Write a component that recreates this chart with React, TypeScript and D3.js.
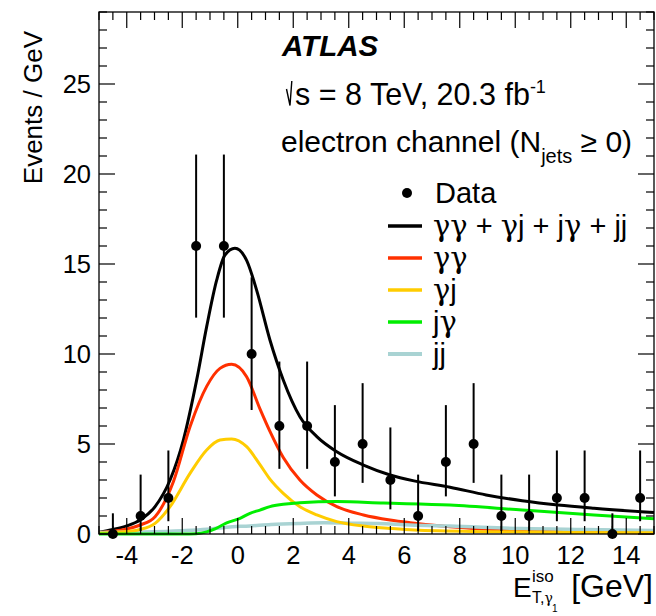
import React from 'react';
import * as d3 from 'd3';

// ---- data ----
const binCenters = [-4.5, -3.5, -2.5, -1.5, -0.5, 0.5, 1.5, 2.5, 3.5, 4.5, 5.5, 6.5, 7.5, 8.5, 9.5, 10.5, 11.5, 12.5, 13.5, 14.5];
const dataCounts = [0, 1, 2, 16, 16, 10, 6, 6, 4, 5, 3, 1, 4, 5, 1, 1, 2, 2, 0, 2];
const errHigh = [1.15, 2.3, 2.64, 5.08, 5.08, 4.26, 3.58, 3.58, 3.16, 3.38, 2.92, 2.3, 3.16, 3.38, 2.3, 2.3, 2.64, 2.64, 1.15, 2.64];
const errLow = [0, 0.83, 1.29, 3.98, 3.98, 3.11, 2.38, 2.38, 1.91, 2.16, 1.63, 0.83, 1.91, 2.16, 0.83, 0.83, 1.29, 1.29, 0, 1.29];

const totalX = [-5, -4.5, -4, -3.52, -2.98, -2.44, -1.96, -1.48, -1.12, -0.76, -0.46, -0.1, 0.32, 0.68, 1.16, 1.64, 2.24, 2.85, 3.57, 4.53, 5.49, 6.35, 7.65, 8.95, 10.25, 11.54, 12.84, 15];
const totalY = [0.1, 0.25, 0.45, 0.78, 1.52, 3.0, 5.22, 8.56, 11.52, 14.1, 15.5, 15.87, 15.2, 13.55, 10.78, 8.56, 6.52, 5.41, 4.57, 3.83, 3.28, 2.95, 2.6, 2.17, 1.85, 1.61, 1.43, 1.19];

const ggX = [-5, -4.5, -4, -3.52, -2.98, -2.32, -1.72, -1.12, -0.64, -0.22, 0.32, 0.8, 1.16, 1.64, 2.24, 2.85, 3.57, 4.53, 5.49, 6.21, 7.65, 9.6, 12, 15];
const ggY = [0.08, 0.15, 0.28, 0.5, 0.96, 2.9, 5.96, 8.2, 9.2, 9.43, 8.74, 6.95, 5.7, 4.25, 3.0, 2.17, 1.52, 1.06, 0.78, 0.63, 0.4, 0.22, 0.12, 0.06];

const gjX = [-5, -4.5, -4, -3.52, -2.98, -2.44, -1.72, -1.12, -0.64, -0.22, 0.32, 0.8, 1.16, 1.64, 2.24, 2.85, 3.57, 4.53, 5.49, 6.35, 8.95, 12, 15];
const gjY = [0.05, 0.08, 0.14, 0.25, 0.59, 1.52, 3.37, 4.67, 5.22, 5.28, 4.85, 3.85, 3.05, 2.26, 1.52, 1.06, 0.69, 0.44, 0.31, 0.22, 0.13, 0.09, 0.07];

const jgX = [-5, -2, -1.5, -1.12, -0.8, -0.4, 0.08, 0.44, 0.8, 1.16, 1.64, 2.24, 3.57, 5.25, 7.65, 10.25, 12.84, 15];
const jgY = [0, 0, 0.02, 0.12, 0.3, 0.62, 0.87, 1.15, 1.33, 1.52, 1.65, 1.74, 1.8, 1.72, 1.61, 1.33, 1.06, 0.85];

const jjX = [-5, -3.5, -2, -1.12, -0.4, 0.44, 1.2, 2.24, 3.11, 4.1, 5.06, 6.21, 7.65, 10.25, 12.5, 15];
const jjY = [0.08, 0.11, 0.18, 0.26, 0.38, 0.45, 0.53, 0.59, 0.62, 0.6, 0.58, 0.5, 0.44, 0.3, 0.25, 0.2];

const xTickLabels = ['-4', '-2', '0', '2', '4', '6', '8', '10', '12', '14'];
const xTickValues = [-4, -2, 0, 2, 4, 6, 8, 10, 12, 14];
const yTickLabels = ['0', '5', '10', '15', '20', '25'];
const yTickValues = [0, 5, 10, 15, 20, 25];

const legendLabels = ['Data', 'γγ + γj + jγ + jj', 'γγ', 'γj', 'jγ', 'jj'];

const FONT = 'Liberation Sans, Arial, Helvetica, sans-serif';
const GREEK = 'DejaVu Serif, Liberation Serif, serif';

// renders text where γ is drawn in a serif face
function GreekText({ s, x, y, size }: { s: string; x: number; y: number; size: number }) {
  const parts = s.split(/(γ)/).filter((p) => p.length > 0);
  return (
    <text x={x} y={y} fontFamily={FONT} fontSize={size} fill="#000" style={{ whiteSpace: 'pre' }}>
      {parts.map((p, i) =>
        p === 'γ' ? (
          <tspan key={i} fontFamily={GREEK} fontSize={size}>γ</tspan>
        ) : (
          <tspan key={i}>{p}</tspan>
        )
      )}
    </text>
  );
}

export default function App() {
  const X0 = 99, X1 = 654, Y0 = 534, Y1 = 12;
  const x = d3.scaleLinear().domain([-5, 15]).range([X0, X1]);
  const y = d3.scaleLinear().domain([0, 29]).range([Y0, Y1]);

  const mk = (xs: number[], ys: number[]) =>
    d3
      .line<number>()
      .x((_, i) => x(xs[i]))
      .y((d) => y(d))
      .curve(d3.curveMonotoneX)(ys) || '';

  const yTicks = d3.range(0, 30, 1);
  const xTicks = d3.range(-5, 15.001, 0.5);

  const curves = [
    { xs: totalX, ys: totalY, color: '#000000', w: 3 },
    { xs: ggX, ys: ggY, color: '#ff3000', w: 3 },
    { xs: jjX, ys: jjY, color: '#a9d3d3', w: 3.5 },
    { xs: gjX, ys: gjY, color: '#ffcc00', w: 3 },
    { xs: jgX, ys: jgY, color: '#00ee00', w: 3 },
  ];

  const legendColors = ['#000', '#000000', '#ff3000', '#ffcc00', '#00ee00', '#a9d3d3'];
  const legendRowY = [193, 226, 258, 290, 322, 354];

  return (
    <svg width={656} height={616} style={{ position: 'absolute', left: 0, top: 0, background: '#fff' }}>
      <rect x={0} y={0} width={656} height={616} fill="#fff" />
      {/* curves */}
      {curves.map((c, i) => (
        <path key={i} d={mk(c.xs, c.ys)} fill="none" stroke={c.color} strokeWidth={c.w} strokeLinejoin="round" />
      ))}

      {/* frame */}
      <rect x={X0} y={Y1} width={X1 - X0} height={Y0 - Y1} fill="none" stroke="#000" strokeWidth={1.3} />

      {/* y ticks left & right */}
      {yTicks.map((t) => {
        const len = t % 5 === 0 ? 16 : 8;
        return (
          <g key={'y' + t} stroke="#000" strokeWidth={1.2}>
            <line x1={X0} x2={X0 + len} y1={y(t)} y2={y(t)} />
            <line x1={X1} x2={X1 - len} y1={y(t)} y2={y(t)} />
          </g>
        );
      })}
      {/* x ticks bottom & top */}
      {xTicks.map((t) => {
        const major = Math.abs(t % 2) < 1e-6;
        const len = major ? 16 : 8;
        return (
          <g key={'x' + t} stroke="#000" strokeWidth={1.2}>
            <line x1={x(t)} x2={x(t)} y1={Y0} y2={Y0 - len} />
            <line x1={x(t)} x2={x(t)} y1={Y1} y2={Y1 + len} />
          </g>
        );
      })}

      {/* tick labels */}
      {yTickValues.map((v, i) => (
        <text key={'yl' + v} x={91} y={y(v)} dy="0.36em" textAnchor="end" fontFamily={FONT} fontSize={25.5} fill="#000">
          {yTickLabels[i]}
        </text>
      ))}
      {xTickValues.map((v, i) => (
        <text key={'xl' + v} x={x(v)} y={564} textAnchor="middle" fontFamily={FONT} fontSize={25.5} fill="#000">
          {xTickLabels[i]}
        </text>
      ))}

      {/* axis titles */}
      <text transform="translate(42,31) rotate(-90)" textAnchor="end" fontFamily={FONT} fontSize={26} fill="#000">
        Events / GeV
      </text>
      <text x={653} y={597} textAnchor="end" fontFamily={FONT} fontSize={32} fill="#000">[GeV]</text>
      <text x={513} y={597} fontFamily={FONT} fontSize={28} fill="#000">E</text>
      <text x={532} y={582} fontFamily={FONT} fontSize={17} fill="#000">iso</text>
      <text x={532} y={603} fontFamily={FONT} fontSize={16} fill="#000">
        T,<tspan fontFamily={GREEK} fontSize={14}>γ</tspan>
      </text>
      <text x={552} y={612} fontFamily={FONT} fontSize={10} fill="#000">1</text>

      {/* error bars & data points */}
      {binCenters.map((c, i) => (
        <line key={'e' + i} x1={x(c)} x2={x(c)} y1={y(dataCounts[i] + errHigh[i])} y2={y(dataCounts[i] - errLow[i])} stroke="#000" strokeWidth={2} />
      ))}
      {binCenters.map((c, i) => (
        <circle key={'p' + i} cx={x(c)} cy={y(dataCounts[i])} r={5} fill="#000" />
      ))}

      {/* ATLAS labels */}
      <text x={282} y={56} fontFamily={FONT} fontSize={29.5} fontWeight="bold" fontStyle="italic" fill="#000">ATLAS</text>
      <path d="M286.5,89 L290,105.5 L291.8,81" fill="none" stroke="#000" strokeWidth={1.4} />
      <text x={295} y={105} fontFamily={FONT} fontSize={30.5} fill="#000" style={{ whiteSpace: 'pre' }}>
        s = 8 TeV, 20.3 fb<tspan fontSize={18} dy={-12}>-1</tspan>
      </text>
      <text x={281} y={152} fontFamily={FONT} fontSize={30} fill="#000" style={{ whiteSpace: 'pre' }}>
        electron channel (N<tspan fontSize={20} dy={11}>jets</tspan>
        <tspan dy={-11}> ≥ 0)</tspan>
      </text>

      {/* legend */}
      <circle cx={407} cy={legendRowY[0]} r={5} fill="#000" />
      <text x={435} y={legendRowY[0] + 10} fontFamily={FONT} fontSize={29} fill="#000">{legendLabels[0]}</text>
      {legendLabels.slice(1).map((lab, k) => {
        const i = k + 1;
        return (
          <g key={'lg' + i}>
            <line x1={388} x2={422} y1={legendRowY[i]} y2={legendRowY[i]} stroke={legendColors[i]} strokeWidth={i === 5 ? 4 : 3.5} />
            <GreekText s={lab} x={433} y={legendRowY[i] + 10} size={29} />
          </g>
        );
      })}
    </svg>
  );
}
